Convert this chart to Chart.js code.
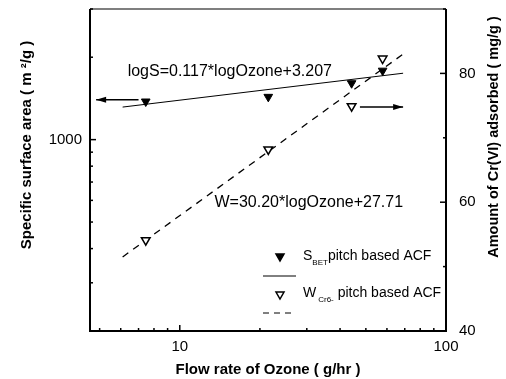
<!DOCTYPE html>
<html>
<head>
<meta charset="utf-8">
<script src="https://cdn.jsdelivr.net/npm/chart.js@4.4.0/dist/chart.umd.min.js"></script>
<style>
html,body{margin:0;padding:0;background:#fff;}
#wrap{width:506px;height:379px;position:relative;}
</style>
</head>
<body>
<div id="wrap"><canvas id="c" width="506" height="379"></canvas></div>
<script>
// ---- data ----
const ozoneFlow   = [7.45, 21.5, 44.2, 57.8];      // g/hr
const surfaceArea = [1378, 1433, 1607, 1786];      // m2/g  (filled triangles, left axis)
const crAdsorbed  = [54.1, 68.2, 74.9, 82.3];      // mg/g  (open triangles, right axis)
const fitX        = [6.1, 69];                     // ends of the fit lines
const fitS        = [1315, 1748];                  // logS fit
const fitW        = [51.5, 83.0];                  // W fit
const xTicks      = [5,6,7,8,9,10,20,30,40,50,60,70,80,90,100];
const xLabels     = [10,100];
const yTicks      = [200,300,400,500,600,700,800,900,1000,2000,3000];
const yLabels     = [1000];
const y1Ticks     = [40,50,60,70,80,90];
const y1Labels    = [40,60,80];
const leftTitle   = 'Specific surface area ( m ²/g )';
const rightTitle  = 'Amount of Cr(VI) adsorbed ( mg/g )';
const xTitle      = 'Flow rate of Ozone ( g/hr )';

const FONT = '"Liberation Sans", Arial, sans-serif';

const frame = {
  id:'frame',
  afterDraw(chart){
    const ctx = chart.ctx, a = chart.chartArea;
    const sx = chart.scales.x, sy = chart.scales.y, sy1 = chart.scales.y1;
    ctx.save();
    ctx.strokeStyle = '#000';
    // box
    ctx.lineWidth = 2;
    ctx.beginPath();
    ctx.moveTo(a.left, a.top); ctx.lineTo(a.left, a.bottom); ctx.lineTo(a.right, a.bottom); ctx.lineTo(a.right, a.top);
    ctx.stroke();
    ctx.lineWidth = 1.2;
    ctx.beginPath(); ctx.moveTo(a.left, a.top); ctx.lineTo(a.right, a.top); ctx.stroke();
    // inner ticks
    ctx.lineWidth = 1.5;
    const ln = (x1,y1,x2,y2)=>{ctx.beginPath();ctx.moveTo(x1,y1);ctx.lineTo(x2,y2);ctx.stroke();};
    sx.ticks.forEach(t=>{ const p = sx.getPixelForValue(t.value); const L = xLabels.includes(t.value)?6:3; ln(p,a.bottom,p,a.bottom-L); });
    sy.ticks.forEach(t=>{ const p = sy.getPixelForValue(t.value); const L = yLabels.includes(t.value)?6:3; ln(a.left,p,a.left+L,p); });
    sy1.ticks.forEach(t=>{ const p = sy1.getPixelForValue(t.value); const L = y1Labels.includes(t.value)?6:3; ln(a.right,p,a.right-L,p); });

    // arrows (in data units)
    const arrow = (x1,x2,yPix,headLeft)=>{
      const p1 = sx.getPixelForValue(x1), p2 = sx.getPixelForValue(x2);
      ctx.lineWidth = 1.5;
      ln(p1,yPix,p2,yPix);
      const hx = headLeft ? p1 : p2, d = headLeft ? 1 : -1;
      ctx.beginPath(); ctx.moveTo(hx,yPix); ctx.lineTo(hx+d*10,yPix-3); ctx.lineTo(hx+d*10,yPix+3); ctx.closePath(); ctx.fillStyle='#000'; ctx.fill();
    };
    arrow(4.85, 7.0, sy.getPixelForValue(1398), true);
    arrow(47.5, 69, sy1.getPixelForValue(74.8), false);

    // equations
    ctx.fillStyle = '#000';
    ctx.font = '16px ' + FONT;
    ctx.textBaseline = 'middle';
    ctx.textAlign = 'left';
    ctx.fillText('logS=0.117*logOzone+3.207', sx.getPixelForValue(6.37), sy.getPixelForValue(1770));
    ctx.fillText('W=30.20*logOzone+27.71', sx.getPixelForValue(13.5), sy1.getPixelForValue(60.0));

    // legend
    const tri = (x,y,filled)=>{
      ctx.beginPath(); ctx.moveTo(x-4,y-3); ctx.lineTo(x+4,y-3); ctx.lineTo(x,y+4); ctx.closePath();
      ctx.lineWidth = 1.5;
      if(filled){ctx.fillStyle='#000';ctx.fill();} ctx.stroke();
    };
    tri(a.left+190, 257, true);
    tri(a.left+190, 295, false);
    ctx.lineWidth = 1;
    ln(a.left+173, 276, a.left+206, 276);
    ctx.setLineDash([6,5]);
    ln(a.left+173, 313, a.left+206, 313);
    ctx.setLineDash([]);
    ctx.fillStyle='#000';
    ctx.font = '14px ' + FONT;
    ctx.textBaseline = 'middle';
    let x0 = a.left+213;
    ctx.fillText('S', x0, 256);
    let w = ctx.measureText('S').width;
    ctx.font = '8px ' + FONT;
    ctx.fillText('BET', x0+w, 263);
    let w2 = ctx.measureText('BET').width;
    ctx.font = '14px ' + FONT;
    ctx.fillText('pitch based ACF', x0+w+w2, 256);
    ctx.fillText('W', x0, 293);
    w = ctx.measureText('W').width;
    ctx.font = '8px ' + FONT;
    ctx.fillText('Cr6-', x0+w+2, 300);
    w2 = ctx.measureText('Cr6-').width;
    ctx.font = '14px ' + FONT;
    ctx.fillText(' pitch based ACF', x0+w+w2+2, 293);

    // vertical axis titles (both read bottom-to-top)
    ctx.textAlign = 'center';
    ctx.textBaseline = 'middle';
    ctx.font = 'bold 15px ' + FONT;
    ctx.save(); ctx.translate(27, 145); ctx.rotate(-Math.PI/2); ctx.fillText(leftTitle, 0, 0); ctx.restore();
    ctx.font = 'bold 14.5px ' + FONT;
    ctx.save(); ctx.translate(494, 137); ctx.rotate(-Math.PI/2); ctx.fillText(rightTitle, 0, 0); ctx.restore();
    ctx.restore();
  }
};

const toPts = (xs, ys) => xs.map((x,i)=>({x:x, y:ys[i]}));
const noPadV = s => { s.paddingTop = 0; s.paddingBottom = 0; };

new Chart(document.getElementById('c'), {
  type:'scatter',
  data:{
    datasets:[
      {label:'S_BET pitch based ACF', data:toPts(ozoneFlow,surfaceArea), yAxisID:'y',
       pointStyle:'triangle', rotation:180, pointRadius:5, backgroundColor:'#000', borderColor:'#000', borderWidth:1, showLine:false},
      {label:'W_Cr6- pitch based ACF', data:toPts(ozoneFlow,crAdsorbed), yAxisID:'y1',
       pointStyle:'triangle', rotation:180, pointRadius:5, backgroundColor:'#fff', borderColor:'#000', borderWidth:1.5, showLine:false},
      {label:'S fit', data:toPts(fitX,fitS), yAxisID:'y', showLine:true, pointRadius:0, borderColor:'#000', borderWidth:1, fill:false},
      {label:'W fit', data:toPts(fitX,fitW), yAxisID:'y1', showLine:true, pointRadius:0, borderColor:'#000', borderWidth:1.3, borderDash:[7,6], fill:false}
    ]
  },
  options:{
    responsive:false,
    animation:false,
    layout:{padding:{top:9,left:0,right:0,bottom:0}},
    plugins:{legend:{display:false}, tooltip:{enabled:false}},
    scales:{
      x:{type:'logarithmic', min:4.6, max:100,
         afterBuildTicks:s=>{s.ticks = xTicks.map(v=>({value:v}));},
         afterFit:s=>{s.height = 48; s.paddingLeft = 0; s.paddingRight = 0;},
         grid:{display:false, drawTicks:false}, border:{display:false},
         ticks:{autoSkip:false, maxRotation:0, padding:7, color:'#000', font:{family:FONT,size:15},
                callback:(v)=> xLabels.includes(v) ? String(v) : ''},
         title:{display:true, text:xTitle, color:'#000', font:{family:FONT,size:15,weight:'bold'}, padding:{top:8,bottom:0}}},
      y:{type:'logarithmic', position:'left', min:200, max:3000,
         afterBuildTicks:s=>{s.ticks = yTicks.map(v=>({value:v}));},
         afterFit:s=>{s.width = 90; noPadV(s);},
         grid:{display:false, drawTicks:false}, border:{display:false},
         ticks:{autoSkip:false, padding:8, color:'#000', font:{family:FONT,size:15},
                callback:(v)=> yLabels.includes(v) ? String(v) : ''},
         title:{display:false}},
      y1:{type:'linear', position:'right', min:40, max:90,
         afterBuildTicks:s=>{s.ticks = y1Ticks.map(v=>({value:v}));},
         afterFit:s=>{s.width = 60; noPadV(s);},
         grid:{display:false, drawTicks:false}, border:{display:false},
         ticks:{autoSkip:false, padding:13, color:'#000', font:{family:FONT,size:15},
                callback:(v)=> y1Labels.includes(v) ? String(v) : ''},
         title:{display:false}}
    }
  },
  plugins:[frame]
});
</script>
</body>
</html>
